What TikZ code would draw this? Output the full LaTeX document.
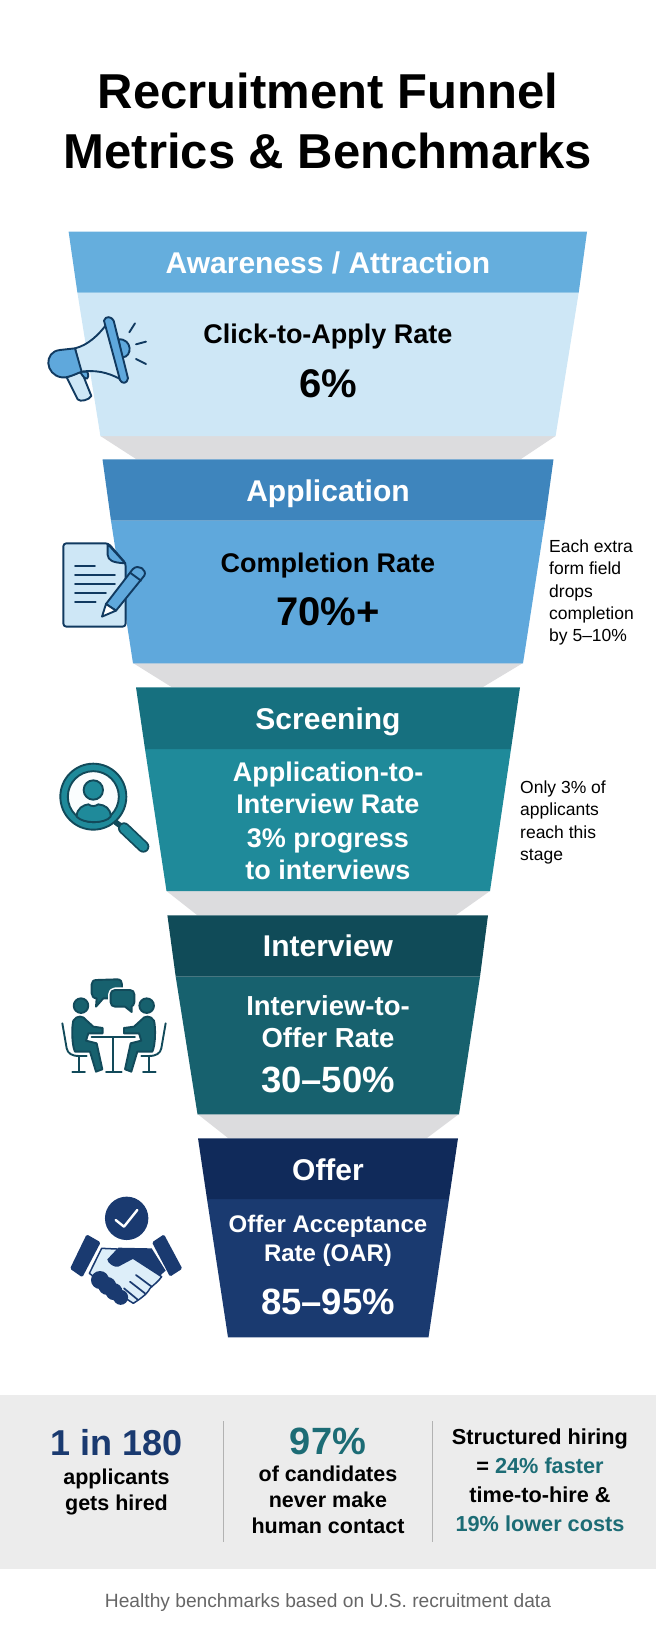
\documentclass[tikz,border=0pt]{standalone}
\usepackage{fontspec}
\setmainfont{Liberation Sans}
\definecolor{headA}{HTML}{65AEDD}
\definecolor{bodyA}{HTML}{CEE7F6}
\definecolor{headB}{HTML}{3E85BD}
\definecolor{bodyB}{HTML}{5FA8DC}
\definecolor{headC}{HTML}{16707F}
\definecolor{bodyC}{HTML}{1F8A9A}
\definecolor{headD}{HTML}{104B58}
\definecolor{bodyD}{HTML}{17616E}
\definecolor{headE}{HTML}{102A5A}
\definecolor{bodyE}{HTML}{1A3A70}
\definecolor{dropgrey}{HTML}{DCDCDE}
\definecolor{bandgrey}{HTML}{ECECEC}
\definecolor{inkblue}{HTML}{113A60}
\definecolor{inkteal}{HTML}{124A5A}
\definecolor{textteal}{HTML}{1C6C75}
\tikzset{
    fnt/.style={font=\fontsize{#1}{#1}\selectfont},
    titletext/.style={font=\fontsize{49}{60}\selectfont\bfseries, align=center, inner sep=0pt},
    headtext/.style={font=\fontsize{30}{30}\selectfont\bfseries, text=white, inner sep=0pt},
    ratetext/.style={font=\fontsize{27}{32}\selectfont\bfseries, align=center, inner sep=0pt},
    valuetext/.style={font=\fontsize{40}{40}\selectfont\bfseries, inner sep=0pt},
    notetext/.style={font=\fontsize{17.5}{22.3}\selectfont, align=left, anchor=west, inner sep=0pt},
    bandtext/.style={font=\fontsize{21.5}{26}\selectfont\bfseries, align=center, inner sep=0pt},
    icon/.style={line width=1.9pt, line join=round, line cap=round},
}
\begin{document}
\begin{tikzpicture}[x=1pt,y=-1pt]
    \useasboundingbox (0,0) rectangle (656,1632);
    % title
    \node[titletext] (title) at (328,120.5) {Recruitment Funnel\\Metrics \& Benchmarks};

    % grey drops
    \fill[dropgrey] (100.4,436) -- (555.6,436) -- (521,459) -- (136,459) -- cycle;
    \fill[dropgrey] (133,663) -- (523,663) -- (483,687) -- (171.5,687) -- cycle;
    \fill[dropgrey] (166.5,891) -- (490,891) -- (456,915) -- (197,915) -- cycle;
    \fill[dropgrey] (197.5,1114) -- (459,1114) -- (427,1138) -- (228,1138) -- cycle;

    % first stage
    \fill[bodyA] (77.4,292.7) -- (578.7,292.7) -- (555.6,436) -- (100.4,436) -- cycle;
    \fill[headA] (68.6,231.7) -- (587,231.7) -- (578.7,292.7) -- (77.4,292.7) -- cycle;
    \node[headtext] (awareness) at (328,262.5) {Awareness / Attraction};
    \node[ratetext] (clickrate) at (328,337) {Click-to-Apply Rate};
    \node[valuetext] (clickvalue) at (328,384) {6\%};

    % second stage
    \fill[bodyB] (111,520.7) -- (545,520.7) -- (523,663.3) -- (133,663.3) -- cycle;
    \fill[headB] (102.5,459.3) -- (553.5,459.3) -- (545,520.7) -- (111,520.7) -- cycle;
    \node[headtext] (application) at (328,494) {Application};
    \node[ratetext] (completerate) at (328,566) {Completion Rate};
    \node[valuetext] (completevalue) at (328,612) {70\%+};
    \node[notetext] (fieldnote) at (549,592.5) {Each extra\\form field\\drops\\completion\\by 5--10\%};

    % third stage
    \fill[bodyC] (145,749) -- (511,749) -- (490,891) -- (166.5,891) -- cycle;
    \fill[headC] (136,687.3) -- (520,687.3) -- (511,749) -- (145,749) -- cycle;
    \node[headtext] (screening) at (328,722) {Screening};
    \node[ratetext, text=white] (screenrate) at (328,788) {Application-to-\\Interview Rate};
    \node[ratetext, text=white] (screenvalue) at (328,854.5) {3\% progress\\to interviews};
    \node[notetext] (onlynote) at (520,822.5) {Only 3\% of\\applicants\\reach this\\stage};

    % fourth stage
    \fill[bodyD] (175.7,976.7) -- (480,976.7) -- (459,1114.3) -- (197.5,1114.3) -- cycle;
    \fill[headD] (167.4,915.3) -- (488,915.3) -- (480,976.7) -- (175.7,976.7) -- cycle;
    \node[headtext] (interview) at (328,946) {Interview};
    \node[ratetext, text=white, font=\fontsize{27.5}{32}\selectfont\bfseries] (interviewrate) at (328,1022) {Interview-to-\\Offer Rate};
    \node[valuetext, text=white, font=\fontsize{36.5}{36}\selectfont\bfseries] (interviewvalue) at (328,1080) {30--50\%};

    % fifth stage
    \fill[bodyE] (207,1199) -- (449,1199) -- (428.5,1337.3) -- (228,1337.3) -- cycle;
    \fill[headE] (198,1138.3) -- (458,1138.3) -- (449,1199) -- (207,1199) -- cycle;
    \node[headtext] (offer) at (328,1170) {Offer};
    \node[ratetext, text=white, font=\fontsize{24}{28.5}\selectfont\bfseries] (offerrate) at (328,1241) {Offer Acceptance\\Rate (OAR)};
    \node[valuetext, text=white, font=\fontsize{36.5}{36}\selectfont\bfseries] (offervalue) at (328,1302) {85--95\%};

    % megaphone
    \begin{scope}[shift={(30,300)},x=0.3333pt,y=-0.3333pt]
        \filldraw[icon, draw=inkblue, fill=bodyA] (110,232) -- (143,298) .. controls (150,307) and (178,300) .. (184,288) -- (155,215) -- cycle;
        \filldraw[icon, draw=inkblue, fill=bodyB] (150,215) .. controls (170,250) and (180,235) .. (172,215) -- cycle;
        \filldraw[icon, draw=inkblue, fill=bodyB] (265,118) .. controls (308,115) and (308,172) .. (277,172) -- cycle;
        \filldraw[icon, draw=inkblue, fill=bodyA] (135,145) .. controls (175,135) and (205,105) .. (228,75) -- (272,238) .. controls (230,215) and (195,210) .. (152,215) -- cycle;
        \filldraw[icon, draw=inkblue, fill=bodyB] (135,145) -- (155,215) .. controls (130,225) and (110,235) .. (95,232) .. controls (45,225) and (40,155) .. (90,150) -- cycle;
        \filldraw[icon, draw=inkblue, fill=bodyB] (222,62) .. controls (226,46) and (246,50) .. (251,62) -- (294,235) .. controls (292,252) and (275,252) .. (270,240) -- cycle;
        \draw[icon, draw=inkblue] (298,97) -- (315,70);
        \draw[icon, draw=inkblue] (318,133) -- (348,125);
        \draw[icon, draw=inkblue] (318,177) -- (348,192);

        % document and pencil
        \filldraw[icon, draw=inkblue, fill=bodyA, rounded corners=3pt] (100,730) -- (235,730) -- (287,790) -- (287,980) -- (100,980) -- cycle;
        \filldraw[icon, draw=inkblue, fill=bodyB] (233,732) -- (233,765) .. controls (235,780) and (245,788) .. (286,790) -- cycle;
        \draw[icon, draw=inkblue] (135,797) -- (195,797);
        \draw[icon, draw=inkblue] (135,825) -- (255,825);
        \draw[icon, draw=inkblue] (135,852) -- (255,852);
        \draw[icon, draw=inkblue] (135,879) -- (228,879);
        \draw[icon, draw=inkblue] (135,906) -- (197,906);
        \filldraw[icon, draw=inkblue, fill=bodyB] (228,912) -- (308,808) .. controls (325,790) and (352,810) .. (343,827) -- (258,932) -- cycle;
        \filldraw[icon, draw=inkblue, fill=white] (228,912) -- (216,950) -- (258,932) -- cycle;
        \draw[icon, draw=inkblue] (300,818) -- (333,842);
    \end{scope}

    % magnifier
    \begin{scope}[shift={(40,750)},x=0.3333pt,y=-0.3333pt]
        \draw[line width=5.5pt, draw=inkteal] (225,215) -- (255,238);
        \draw[line width=12pt, line cap=round, draw=inkteal] (252,235) -- (310,290);
        \draw[line width=8.5pt, line cap=round, draw=bodyC] (252,235) -- (310,290);
        \filldraw[icon, draw=inkteal, fill=bodyC] (160,140) circle[radius=33pt];
        \filldraw[icon, draw=inkteal, fill=white!90!bodyA] (160,140) circle[radius=25.5pt];
        \filldraw[icon, draw=inkteal, fill=bodyC] (160,120) circle[radius=9.7pt];
        \filldraw[icon, draw=inkteal, fill=bodyC] (110,200) .. controls (110,175) and (130,165) .. (145,163) .. controls (155,170) and (165,170) .. (175,163) .. controls (195,165) and (212,175) .. (212,200) .. controls (195,222) and (130,222) .. (110,200) -- cycle;

        % two people at a table
        \filldraw[icon, draw=inkteal, fill=bodyD] (170,690) -- (232,688) .. controls (242,688) and (246,695) .. (246,703) -- (246,715) -- (210,745) -- (190,745) -- (168,770) -- (170,745) .. controls (160,745) and (155,738) .. (155,730) -- (155,703) .. controls (155,695) and (160,690) .. (170,690) -- cycle;
        \draw[white, line width=5pt, line join=round] (225,720) -- (270,720) .. controls (278,720) and (283,726) .. (283,733) -- (283,757) .. controls (283,764) and (278,768) .. (275,769) -- (275,786) -- (255,770) -- (225,770) .. controls (217,770) and (212,764) .. (212,757) -- (212,733) .. controls (212,726) and (217,720) .. (225,720) -- cycle;
        \filldraw[icon, draw=inkteal, fill=bodyD] (225,720) -- (270,720) .. controls (278,720) and (283,726) .. (283,733) -- (283,757) .. controls (283,764) and (278,768) .. (275,769) -- (275,786) -- (255,770) -- (225,770) .. controls (217,770) and (212,764) .. (212,757) -- (212,733) .. controls (212,726) and (217,720) .. (225,720) -- cycle;
        \filldraw[icon, draw=inkteal, fill=bodyD] (123,767) circle[radius=7.3pt];
        \filldraw[icon, draw=inkteal, fill=bodyD] (320,767) circle[radius=7.3pt];
        \filldraw[icon, draw=inkteal, fill=bodyD] (100,812) .. controls (110,795) and (130,797) .. (138,810) -- (160,830) -- (188,834) -- (188,850) -- (145,850) -- (138,872) -- (170,880) -- (187,958) -- (168,965) -- (150,905) -- (105,905) .. controls (95,885) and (95,830) .. (100,812) -- cycle;
        \filldraw[icon, draw=inkteal, fill=bodyD] (342,812) .. controls (332,795) and (312,797) .. (304,810) -- (282,830) -- (252,834) -- (252,850) -- (297,850) -- (304,872) -- (272,880) -- (255,958) -- (274,965) -- (292,905) -- (337,905) .. controls (347,885) and (347,830) .. (342,812) -- cycle;
        \draw[icon, draw=inkteal] (67,820) -- (80,895) .. controls (83,910) and (95,918) .. (117,918) -- (140,918);
        \draw[icon, draw=inkteal] (117,918) -- (117,965);
        \draw[icon, draw=inkteal] (97,965) -- (135,965);
        \draw[icon, draw=inkteal] (377,820) -- (364,895) .. controls (361,910) and (349,918) .. (327,918) -- (304,918);
        \draw[icon, draw=inkteal] (327,918) -- (327,965);
        \draw[icon, draw=inkteal] (309,965) -- (347,965);
        \draw[icon, draw=inkteal] (155,862) -- (285,862);
        \draw[icon, draw=inkteal] (220,862) -- (220,965);
        \draw[icon, draw=inkteal] (198,965) -- (245,965);
    \end{scope}

    % handshake
    \begin{scope}[shift={(50,1180)},x=0.3333pt,y=-0.3333pt]
        \fill[bodyE] (230,115) circle[radius=21.7pt];
        \draw[line width=2.4pt, line cap=round, line join=round, white] (197,120) -- (222,140) -- (262,90);
        \fill[bodyE, rounded corners=1.5pt] (110,163) -- (152,187) -- (97,292) -- (60,266) -- cycle;
        \fill[bodyE, rounded corners=1.5pt] (342,163) -- (306,187) -- (360,290) -- (397,266) -- cycle;
        \filldraw[icon, draw=bodyE, fill=bodyA!70!white, line width=1.5pt] (155,205) -- (200,207) -- (250,235) -- (335,290) .. controls (325,305) and (310,315) .. (300,325) .. controls (290,345) and (265,360) .. (250,370) -- (165,315) -- (118,280) -- cycle;
        \fill[bodyE] (205,203) -- (305,205) -- (347,272) -- (330,287) -- (252,235) -- (205,260) .. controls (195,264) and (172,250) .. (172,238) -- cycle;
        \fill[bodyE] (150,300) circle[radius=9pt];
        \fill[bodyE] (172,318) circle[radius=9pt];
        \fill[bodyE] (192,335) circle[radius=8.5pt];
        \fill[bodyE] (212,352) circle[radius=7.5pt];
        \draw[line width=1.7pt, line cap=round, bodyE] (258,285) -- (305,320);
        \draw[line width=1.7pt, line cap=round, bodyE] (240,305) -- (285,340);
        \draw[line width=1.7pt, line cap=round, bodyE] (222,325) -- (262,358);
    \end{scope}

    % bottom band
    \fill[bandgrey] (0,1395) rectangle (656,1569);
    \coordinate (divtopA) at (223.4,1421);
    \coordinate (divbotA) at (223.4,1542);
    \coordinate (divtopB) at (432,1421);
    \coordinate (divbotB) at (432,1542);
    \draw[line width=1pt, gray!60] (divtopA) -- (divbotA);
    \draw[line width=1pt, gray!60] (divtopB) -- (divbotB);

    \node[bandtext, text=bodyE, font=\fontsize{36}{36}\selectfont\bfseries] (onein) at (116.5,1443) {1 in 180};
    \node[bandtext] (hired) at (116.5,1492) {applicants\\gets hired};
    \node[bandtext, text=textteal, font=\fontsize{38}{38}\selectfont\bfseries] (ninetyseven) at (328,1441) {97\%};
    \node[bandtext] (contact) at (328,1500) {of candidates\\never make\\human contact};
    \node[bandtext, font=\fontsize{21.7}{29}\selectfont\bfseries] (structured) at (540,1480) {Structured hiring\\= \textcolor{textteal}{24\% faster}\\time-to-hire \&\\\textcolor{textteal}{19\% lower costs}};

    % footer
    \node[fnt=19.2, text=black!60, inner sep=0pt] (footer) at (328,1603) {Healthy benchmarks based on U.S. recruitment data};
\end{tikzpicture}
\end{document}
